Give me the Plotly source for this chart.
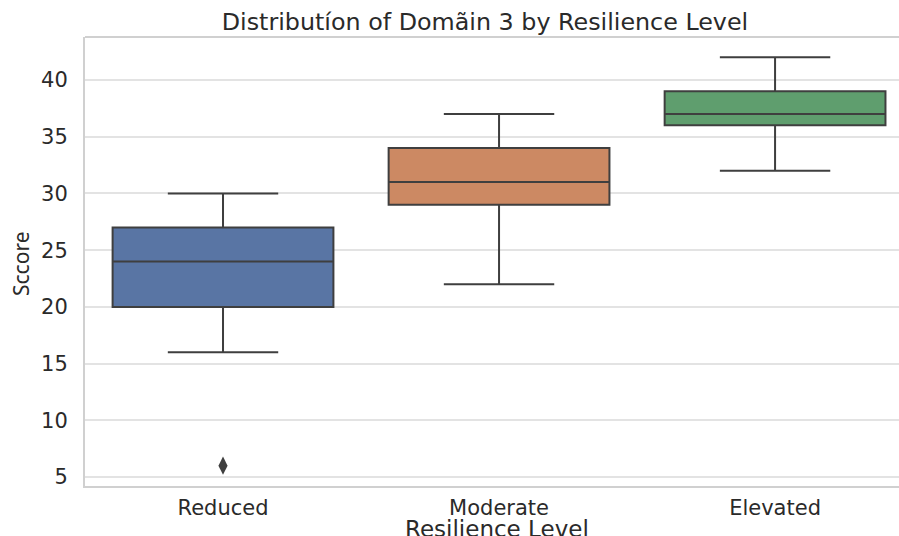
import plotly.graph_objects as go

categories = ["Reduced", "Moderate", "Elevated"]
lower_fence = [16, 22, 32]
q1 = [20, 29, 36]
median = [24, 31, 37]
q3 = [27, 34, 39]
upper_fence = [30, 37, 42]
outlier_cats = ["Reduced"]
outlier_vals = [6]
colors = ["#5975a4", "#cc8963", "#5f9e6e"]
y_ticks = [5, 10, 15, 20, 25, 30, 35, 40]

edge = "#3f3f3f"
fig = go.Figure()
for i, c in enumerate(categories):
    fig.add_trace(go.Box(
        x=[c], q1=[q1[i]], median=[median[i]], q3=[q3[i]],
        lowerfence=[lower_fence[i]], upperfence=[upper_fence[i]],
        fillcolor=colors[i], line=dict(color=edge, width=2),
        width=0.8, whiskerwidth=0.5, boxpoints=False,
        showlegend=False, hoverinfo="skip",
    ))
fig.add_trace(go.Scatter(
    x=outlier_cats, y=outlier_vals, mode="markers",
    marker=dict(symbol="diamond-tall", size=13, color=edge),
    showlegend=False, hoverinfo="skip",
))

font_main = "DejaVu Sans"
fig.update_layout(
    width=899, height=536, autosize=False,
    margin=dict(l=85, r=0, t=37, b=50),
    paper_bgcolor="white", plot_bgcolor="white",
    font=dict(family=font_main, color="#2a2a2a", size=21),
    title=dict(text="Distributíon of Domãin 3 by Resilience Level",
               x=485 / 899, xanchor="center", y=1 - 22/536, yanchor="middle",
               font=dict(size=23.8, family=font_main, color="#2a2a2a")),
    xaxis=dict(
        categoryorder="array", categoryarray=categories,
        range=[-0.5, 2.449], showgrid=False, automargin=False,
        showline=True, linecolor="#d0d0d0", linewidth=2, mirror=False,
        ticks="", tickfont=dict(size=21, color="#2a2a2a"),
        ticklabelstandoff=2,
    ),
    yaxis=dict(
        range=[4.21, 43.79], tickvals=y_ticks, automargin=False,
        showgrid=True, gridcolor="#e3e3e3", gridwidth=1.5,
        showline=True, linecolor="#d0d0d0", linewidth=2, mirror=False,
        zeroline=False, ticks="", tickfont=dict(size=21, color="#2a2a2a"),
        ticklabelstandoff=11,
    ),
    shapes=[dict(type="line", xref="paper", yref="paper", x0=0, x1=1, y0=1, y1=1,
                 line=dict(color="#d0d0d0", width=2))],
    annotations=[
        dict(text="Resilience Level", xref="paper", yref="paper", x=(497 - 85) / 814,
             y=0, yanchor="middle", yshift=-43, showarrow=False,
             font=dict(size=23, family=font_main, color="#2a2a2a")),
        dict(text="Sccore", xref="paper", yref="paper", x=0, xshift=-64,
             y=(486 - 264) / 449, yanchor="middle", xanchor="center", textangle=-90,
             showarrow=False, font=dict(size=21, family="Noto Sans", color="#2a2a2a")),
    ],
)
fig.write_html(
    "out.html",
    config={"responsive": False, "displayModeBar": False},
    post_script="document.body.style.margin='0';document.body.style.overflow='hidden';",
)
